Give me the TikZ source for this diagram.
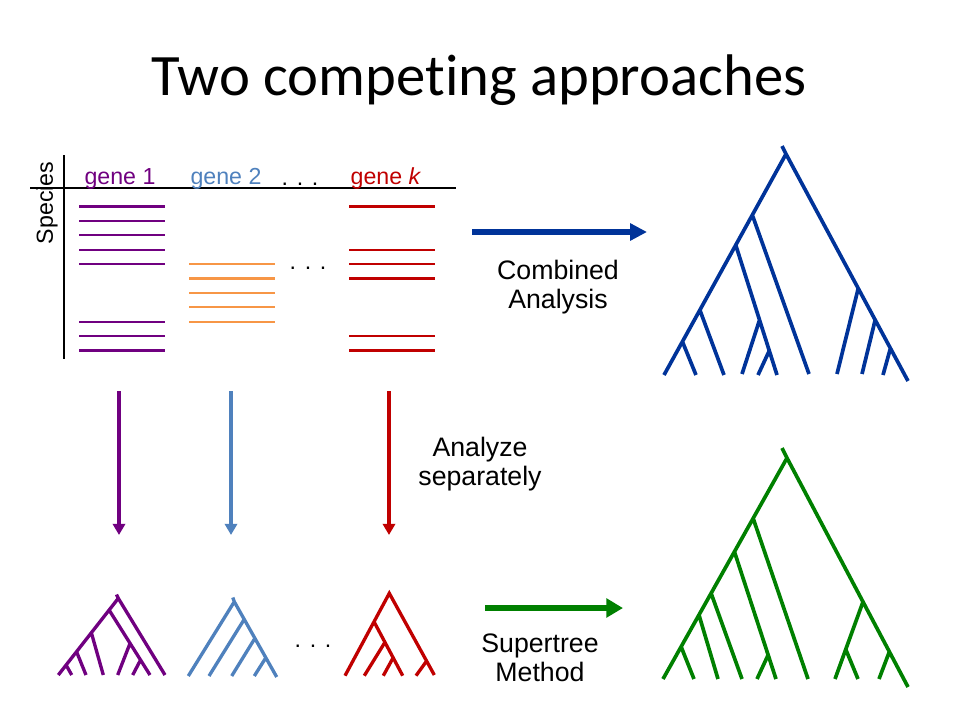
\documentclass[tikz,border=0pt]{standalone}
\usepackage{fontspec}
\setmainfont{Liberation Sans}
\newfontfamily\titlefont[Ligatures=NoCommon]{Carlito}
\usetikzlibrary{positioning, calc, arrows.meta}
\definecolor{genepurple}{RGB}{112,0,128}
\definecolor{geneblue}{RGB}{79,129,189}
\definecolor{genered}{RGB}{192,0,0}
\definecolor{geneorange}{RGB}{247,150,70}
\definecolor{treeblue}{RGB}{0,51,153}
\definecolor{treegreen}{RGB}{0,128,0}
\newcommand{\genefont}{\fontsize{13.2}{15}\selectfont}
\newcommand{\labelfont}{\fontsize{15.2}{16.6}\selectfont}

\begin{document}
\begin{tikzpicture}[x=0.02cm, y=-0.02cm]
\tikzstyle{every node}=[inner sep=0pt, text=black];
\tikzstyle{seq}=[line width=1.2pt];
\tikzstyle{axis}=[line width=1.1pt];
\tikzstyle{bigtree}=[line width=2.1pt];
\tikzstyle{smalltree}=[line width=1.9pt];
\tikzstyle{downarrow}=[line width=2.1pt, -{Triangle[length=6.4pt, width=7pt]}];
\useasboundingbox (0,0) rectangle (960,720);

\path (479,95) node[anchor=base, font=\titlefont\fontsize{33.4}{40}\selectfont] (title) {Two competing approaches};

% species x genes table
\path (64,155) coordinate (ytop) (64,359) coordinate (ybot);
\path (30,188) coordinate (xleft) (456,188) coordinate (xright);
\draw[axis] (ytop) -- (ybot) (xleft) -- (xright);
\path (47,203) node[rotate=90, font=\genefont] (species) {Species};
\path (120,184) node[anchor=base, font=\genefont, text=genepurple] (gene1) {gene 1};
\path (226,184) node[anchor=base, font=\genefont, text=geneblue] (gene2) {gene 2};
\path (300,185) node[anchor=base, font=\genefont] (gdots) {. . .};
\path (386,184) node[anchor=base, font=\genefont, text=genered] (genek) {gene \textit{k}};
\foreach \r in {0,1,2,3,4,8,9,10}
  \draw[seq, genepurple] (79,{206.5+14.4*\r}) -- (165,{206.5+14.4*\r});
\foreach \r in {4,5,6,7,8}
  \draw[seq, geneorange] (189,{206.5+14.4*\r}) -- (275,{206.5+14.4*\r});
\foreach \r in {0,3,4,5,9,10}
  \draw[seq, genered] (349,{206.5+14.4*\r}) -- (435,{206.5+14.4*\r});
\path (308,269) node[anchor=base, font=\genefont] (rdots) {. . .};

% combined analysis
\path (472,232) coordinate (ca0) (647,232) coordinate (ca1);
\draw[line width=3.8pt, treeblue, -{Triangle[length=9.6pt, width=9.4pt]}] (ca0) -- (ca1);
\path (558,260) node[anchor=north, align=center, font=\labelfont] (combined) {Combined\\Analysis};

\path (782,146) coordinate (c0) (786,154) coordinate (c1)
      (664,375) coordinate (c2) (908,381) coordinate (c3);
\path ($(c1)!0.276!(c2)$) coordinate (c4) ($(c1)!0.412!(c2)$) coordinate (c5)
      ($(c1)!0.706!(c2)$) coordinate (c6) ($(c1)!0.849!(c2)$) coordinate (c7)
      ($(c1)!0.592!(c3)$) coordinate (c8) ($(c1)!0.731!(c3)$) coordinate (c9)
      ($(c1)!0.856!(c3)$) coordinate (c10);
\path (809,374) coordinate (cl1) (777,375) coordinate (cl2) (724,375) coordinate (cl3)
      (696,375) coordinate (cl4) (837,374) coordinate (cl5) (862,374) coordinate (cl6)
      (883,375) coordinate (cl7) (742,374) coordinate (cl8) (758,375) coordinate (cl9);
\path ($(c5)!0.577!(cl2)$) coordinate (c11) ($(c5)!0.813!(cl2)$) coordinate (c12);
\draw[bigtree, treeblue] (c0) -- (c1) (c2) -- (c1) -- (c3)
  (c4) -- (cl1) (c5) -- (cl2) (c6) -- (cl3) (c7) -- (cl4)
  (c8) -- (cl5) (c9) -- (cl6) (c10) -- (cl7) (c11) -- (cl8) (c12) -- (cl9);

% analyze separately
\path (119,391) coordinate (pa0) (119,535) coordinate (pa1);
\path (231,391) coordinate (ba0) (231,535) coordinate (ba1);
\path (389,391) coordinate (ra0) (389,535) coordinate (ra1);
\draw[downarrow, genepurple] (pa0) -- (pa1);
\draw[downarrow, geneblue] (ba0) -- (ba1);
\draw[downarrow, genered] (ra0) -- (ra1);
\path (480,437) node[anchor=north, align=center, font=\labelfont] (separately) {Analyze\\separately};

% gene trees
\path (116.5,594.5) coordinate (p0) (118.3,598.3) coordinate (p1)
      (58.3,675) coordinate (p2) (165,675) coordinate (p3);
\path ($(p1)!0.153!(p2)$) coordinate (p4) ($(p1)!0.449!(p2)$) coordinate (p5)
      ($(p1)!0.696!(p2)$) coordinate (p6) ($(p1)!0.870!(p2)$) coordinate (p7);
\path (150,675) coordinate (pl1) (103.3,675) coordinate (pl2) (86,675) coordinate (pl3)
      (71.7,675) coordinate (pl4) (117.7,675) coordinate (pl5) (132.7,675) coordinate (pl6);
\path ($(p4)!0.512!(pl1)$) coordinate (p8) ($(p4)!0.769!(pl1)$) coordinate (p9);
\draw[smalltree, genepurple] (p0) -- (p1) (p2) -- (p1) -- (p3)
  (p4) -- (pl1) (p5) -- (pl2) (p6) -- (pl3) (p7) -- (pl4) (p8) -- (pl5) (p9) -- (pl6);

\path (232.8,597.5) coordinate (q0) (234.3,601.7) coordinate (q1)
      (188.3,676) coordinate (q2) (276.7,677) coordinate (q3);
\path ($(q1)!0.234!(q3)$) coordinate (q4) ($(q1)!0.486!(q3)$) coordinate (q5)
      ($(q1)!0.744!(q3)$) coordinate (q6);
\path (209,676) coordinate (ql1) (231.7,676) coordinate (ql2) (254.3,676) coordinate (ql3);
\draw[smalltree, geneblue] (q0) -- (q1) (q2) -- (q1) -- (q3)
  (q4) -- (ql1) (q5) -- (ql2) (q6) -- (ql3);

\path (313,647) node[anchor=base, font=\genefont] (tdots) {. . .};

\path (389.3,593.3) coordinate (k1) (345,675.7) coordinate (k2) (434.3,675) coordinate (k3);
\path ($(k1)!0.829!(k3)$) coordinate (k4) ($(k1)!0.345!(k2)$) coordinate (k5);
\path (416,675.7) coordinate (kl1) (402.7,675.7) coordinate (kl2)
      (364.3,675.7) coordinate (kl3) (383.3,675.7) coordinate (kl4);
\path ($(k5)!0.381!(kl2)$) coordinate (k6) ($(k5)!0.667!(kl2)$) coordinate (k7);
\draw[smalltree, genered] (k2) -- (k1) -- (k3)
  (k4) -- (kl1) (k5) -- (kl2) (k6) -- (kl3) (k7) -- (kl4);

% supertree method
\path (485,608) coordinate (sa0) (623,608) coordinate (sa1);
\draw[line width=3pt, treegreen, -{Triangle[length=9.4pt, width=10.4pt]}] (sa0) -- (sa1);
\path (540,633) node[anchor=north, align=center, font=\labelfont] (supertree) {Supertree\\Method};

\path (782,448) coordinate (s0) (787,458) coordinate (s1)
      (663,679) coordinate (s2) (908,687) coordinate (s3);
\path ($(s1)!0.273!(s2)$) coordinate (s4) ($(s1)!0.424!(s2)$) coordinate (s5)
      ($(s1)!0.612!(s2)$) coordinate (s6) ($(s1)!0.710!(s2)$) coordinate (s7)
      ($(s1)!0.854!(s2)$) coordinate (s8) ($(s1)!0.628!(s3)$) coordinate (s9)
      ($(s1)!0.846!(s3)$) coordinate (s10);
\path (808,679) coordinate (sl1) (776,679) coordinate (sl2) (742,679) coordinate (sl3)
      (718,679) coordinate (sl4) (694,679) coordinate (sl5) (835,679) coordinate (sl6)
      (879,679) coordinate (sl7) (757,679) coordinate (sl8) (858,679) coordinate (sl9);
\path ($(s5)!0.811!(sl2)$) coordinate (s11) ($(s9)!0.616!(sl6)$) coordinate (s12);
\draw[bigtree, treegreen] (s0) -- (s1) (s2) -- (s1) -- (s3)
  (s4) -- (sl1) (s5) -- (sl2) (s6) -- (sl3) (s7) -- (sl4) (s8) -- (sl5)
  (s9) -- (sl6) (s10) -- (sl7) (s11) -- (sl8) (s12) -- (sl9);
\end{tikzpicture}
\end{document}
